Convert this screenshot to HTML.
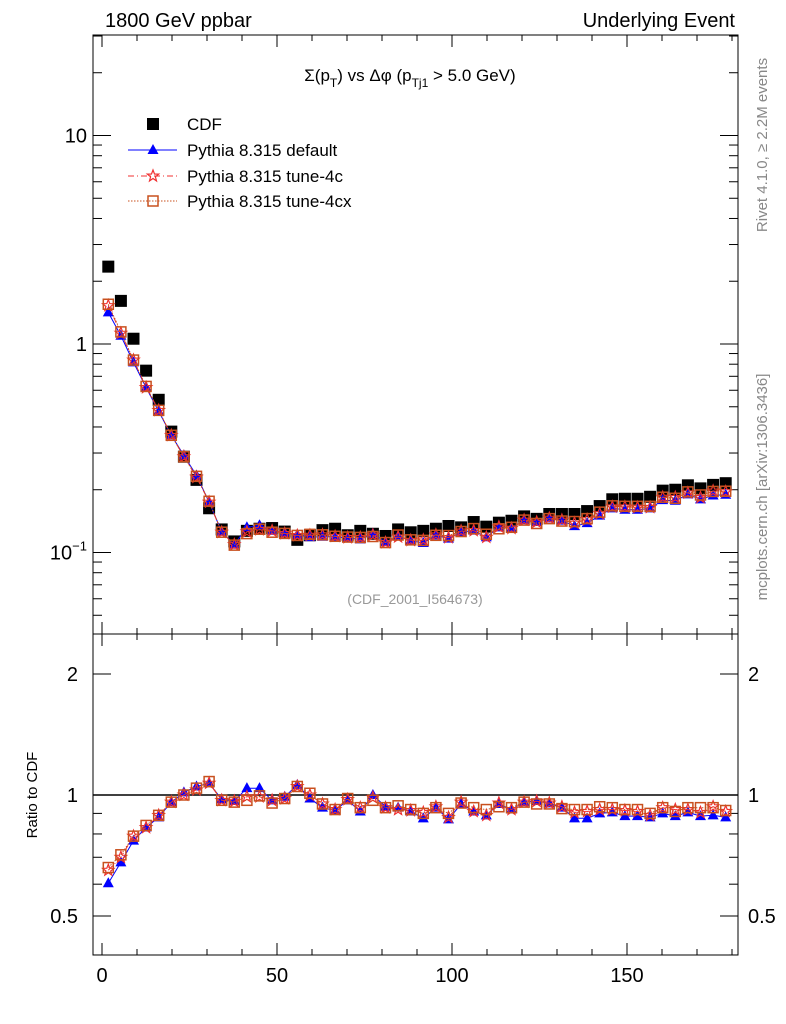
<!DOCTYPE html>
<html><head><meta charset="utf-8"><style>
html,body{margin:0;padding:0;background:#fff;}
svg{display:block;font-family:"Liberation Sans",sans-serif;}
</style></head><body>
<svg id="chart" width="786" height="1024" viewBox="0 0 786 1024" xmlns="http://www.w3.org/2000/svg">
<g id="frames"></g>
<g id="ticks" stroke="#000" stroke-width="1"></g>
<g id="labels" font-size="20"></g>
<g id="series"></g>
<text x="105" y="27" font-size="20">1800 GeV ppbar</text>
<text x="735" y="27" font-size="20" text-anchor="end">Underlying Event</text>
<text x="410" y="81" font-size="17" text-anchor="middle">Σ(p<tspan font-size="12" dy="6">T</tspan><tspan dy="-6">) vs Δφ (p</tspan><tspan font-size="12" dy="6">Tj1</tspan><tspan dy="-6"> &gt; 5.0 GeV)</tspan></text>
<text x="415" y="604" font-size="14" fill="#999" text-anchor="middle">(CDF_2001_I564673)</text>
<text transform="translate(767,145) rotate(-90)" font-size="15" fill="#888" text-anchor="middle">Rivet 4.1.0, ≥ 2.2M events</text>
<text transform="translate(767,487) rotate(-90)" font-size="15" fill="#888" text-anchor="middle">mcplots.cern.ch [arXiv:1306.3436]</text>
<text transform="translate(37,795) rotate(-90)" font-size="15" text-anchor="middle">Ratio to CDF</text>
<g id="legend" font-size="17"></g>
</svg>
<script>
const binCenters=[];for(let i=0;i<50;i++)binCenters.push(+(1.8+3.6*i).toFixed(1));
const cdfValues=[2.35,1.61,1.06,0.745,0.54,0.38,0.288,0.223,0.163,0.129,0.113,0.127,0.13,0.131,
0.126,0.115,0.121,0.128,0.130,0.121,0.127,0.123,0.120,0.129,0.125,0.127,0.130,0.134,0.132,0.140,0.133,0.139,0.142,0.149,0.145,0.153,0.153,0.153,0.158,0.167,0.180,0.181,0.181,0.185,0.198,0.200,0.210,0.203,0.211,0.215];
const ratioDefault=[0.603,0.68,0.77,0.83,0.88,0.96,1.015,1.05,1.07,0.975,0.966,1.04,1.04,0.97,0.99,1.06,0.98,0.93,0.915,0.97,0.91,1.0,0.935,0.93,0.91,0.875,0.93,0.87,0.95,0.91,0.89,0.95,0.92,0.96,0.966,0.953,0.93,0.875,0.875,0.90,0.905,0.886,0.886,0.88,0.90,0.886,0.905,0.886,0.89,0.88];
const ratio4c=[0.65,0.70,0.79,0.83,0.89,0.96,1.0,1.03,1.07,0.97,0.965,0.99,0.99,0.97,0.98,1.05,1.0,0.95,0.92,0.975,0.93,0.985,0.93,0.92,0.915,0.905,0.935,0.88,0.96,0.91,0.89,0.955,0.92,0.96,0.965,0.955,0.935,0.905,0.91,0.92,0.92,0.915,0.91,0.89,0.93,0.92,0.92,0.905,0.935,0.91];
const ratio4cx=[0.66,0.71,0.79,0.84,0.89,0.96,1.0,1.04,1.08,0.97,0.96,0.97,0.995,0.955,0.98,1.05,1.01,0.95,0.92,0.98,0.93,0.97,0.93,0.94,0.92,0.90,0.93,0.90,0.955,0.93,0.92,0.935,0.93,0.96,0.95,0.95,0.925,0.92,0.92,0.935,0.93,0.92,0.92,0.90,0.93,0.91,0.93,0.93,0.93,0.915];
const xTicks=[0,50,100,150];
const mainTicks=[10,1,0.1];
const ratioTicks=[2,1,0.5];

const NS="http://www.w3.org/2000/svg";
const X0=93,X1=738,M0=35,M1=634,R0=634,R1=955;
const xs=v=>102+3.5*v;
const ym=v=>344-208.5*Math.log10(v);
const yr=v=>795-402*Math.log10(v);
function mk(tag,attrs,parent){const e=document.createElementNS(NS,tag);for(const k in attrs)e.setAttribute(k,attrs[k]);parent.appendChild(e);return e;}
const frames=document.getElementById('frames'),ticks=document.getElementById('ticks'),labels=document.getElementById('labels'),series=document.getElementById('series'),legend=document.getElementById('legend');
let f=mk('rect',{x:X0,y:M0,width:X1-X0,height:M1-M0,fill:'none',stroke:'#000'},frames);


f=mk('rect',{x:X0,y:R0,width:X1-X0,height:R1-R0,fill:'none',stroke:'#000'},frames);


let line=mk('line',{x1:X0,x2:X1,y1:yr(1),y2:yr(1),stroke:'#000','stroke-width':1.5},frames);


for(let v=0;v<=180;v+=10){const major=v%50===0;const L=major?12:6;const x=xs(v);
 [[M0,1],[M1,-1],[R0,1],[R1,-1]].forEach(([y,d])=>mk('line',{x1:x,x2:x,y1:y,y2:y+d*L},ticks));}
xTicks.forEach(v=>{const t=mk('text',{x:xs(v),y:982,'text-anchor':'middle'},labels);t.textContent=v;
 
 });
for(let d=-2;d<=1;d++)for(let m=1;m<=9;m++){const v=m*Math.pow(10,d);const y=ym(v);if(y<M0||y>M1)continue;const L=m===1?18:9;
 mk('line',{x1:X0,x2:X0+L,y1:y,y2:y},ticks);mk('line',{x1:X1,x2:X1-L,y1:y,y2:y},ticks);}
mainTicks.forEach(v=>{let t;if(v===0.1){t=mk('text',{x:87,y:ym(v)+7,'text-anchor':'end'},labels);t.innerHTML='10<tspan font-size="13" dy="-9">−1</tspan>';}
 else{t=mk('text',{x:87,y:ym(v)+7,'text-anchor':'end'},labels);t.textContent=v;}
 
 });
[0.4,0.5,0.6,0.7,0.8,0.9,1,2].forEach(v=>{const y=yr(v);const L=(v===1||v===2||v===0.5)?18:9;
 mk('line',{x1:X0,x2:X0+L,y1:y,y2:y},ticks);mk('line',{x1:X1,x2:X1-L,y1:y,y2:y},ticks);});
ratioTicks.forEach(v=>{const t=mk('text',{x:78,y:yr(v)+7,'text-anchor':'end'},labels);t.textContent=v;
 
 
 const t2=mk('text',{x:748,y:yr(v)+7},labels);t2.textContent=v;
 
 });
function marker(type,x,y,g,s){s=s||1;
 if(type==='sq')return mk('rect',{x:x-6,y:y-6,width:12,height:12,fill:'#000'},g);
 if(type==='tri')return mk('polygon',{points:`${x},${y-6*s} ${x-5.5*s},${y+4*s} ${x+5.5*s},${y+4*s}`,fill:'#00f'},g);
 if(type==='star'){let p=[];for(let k=0;k<10;k++){const r=k%2?2.5:6;const a=-Math.PI/2+k*Math.PI/5;p.push((x+r*Math.cos(a)).toFixed(1)+','+(y+r*Math.sin(a)).toFixed(1));}
  return mk('polygon',{points:p.join(' '),fill:'none',stroke:'#f03030','stroke-width':1.2},g);}
 if(type==='box')return mk('rect',{x:x-5,y:y-5,width:10,height:10,fill:'none',stroke:'#c8501e','stroke-width':1.5},g);}
const mcs=[
 {name:'default',ratio:ratioDefault,type:'tri',color:'#00f',dash:''},
 {name:'tune-4c',ratio:ratio4c,type:'star',color:'#f03030',dash:'6,3,1,3'},
 {name:'tune-4cx',ratio:ratio4cx,type:'box',color:'#c8501e',dash:'1.5,1.5'}];
const gc=mk('g',{},series);


cdfValues.forEach((v,i)=>{const m=marker('sq',xs(binCenters[i]),ym(v),gc);
 
 });
mcs.forEach(s=>{const g=mk('g',{},series);
 
 
 const pm=s.ratio.map((r,i)=>xs(binCenters[i]).toFixed(1)+','+ym(r*cdfValues[i]).toFixed(1)).join(' ');
 const pr=s.ratio.map((r,i)=>xs(binCenters[i]).toFixed(1)+','+yr(r).toFixed(1)).join(' ');
 [pm,pr].forEach(p=>mk('polyline',{points:p,fill:'none',stroke:s.color,'stroke-width':1,'stroke-dasharray':s.dash},g));
 s.ratio.forEach((r,i)=>{const x=xs(binCenters[i]);
  let m=marker(s.type,x,ym(r*cdfValues[i]),g);
  
  
  m=marker(s.type,x,yr(r),g);
  
  });});
const rows=[{t:'CDF',type:'sq',y:124},{t:'Pythia 8.315 default',s:mcs[0],y:150},{t:'Pythia 8.315 tune-4c',s:mcs[1],y:176},{t:'Pythia 8.315 tune-4cx',s:mcs[2],y:201}];
rows.forEach(r=>{const g=mk('g',{},legend);
 
 
 if(r.s){mk('line',{x1:128,x2:177,y1:r.y,y2:r.y,stroke:r.s.color,'stroke-dasharray':r.s.dash},g);marker(r.s.type,153,r.y,g);}
 else marker('sq',153,r.y,g);
 const t=mk('text',{x:187,y:r.y+6},g);t.textContent=r.t;});
</script>
</body></html>
